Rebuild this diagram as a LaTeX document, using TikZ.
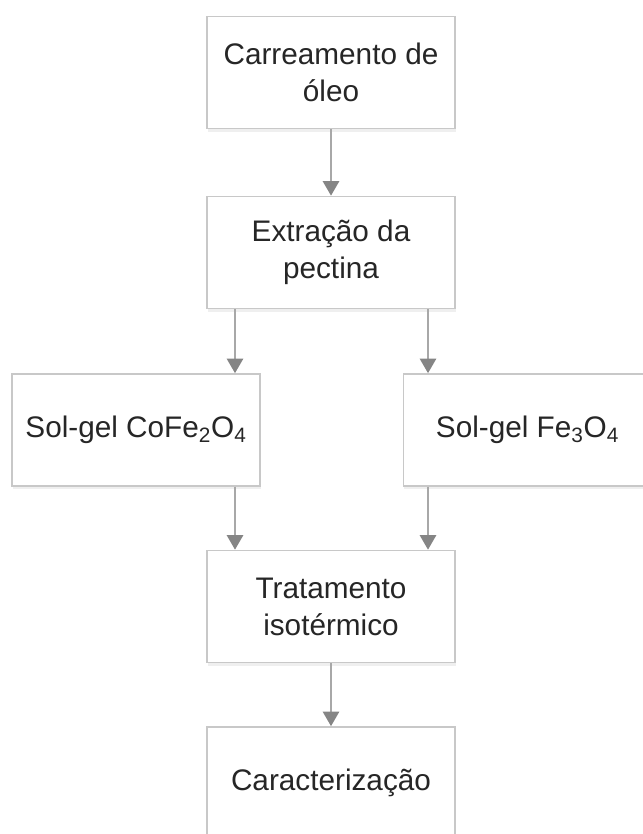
\documentclass[tikz,border=0pt]{standalone}
\usepackage{fontspec}
\setmainfont{Liberation Sans}
\usetikzlibrary{arrows.meta,shadows}
\definecolor{boxline}{HTML}{C8C8C8}
\definecolor{flowline}{HTML}{A8A8A8}
\definecolor{flowhead}{HTML}{858585}
\definecolor{labeltext}{HTML}{262626}

\begin{document}
\begin{tikzpicture}[x=0.75pt, y=0.75pt,
    etapa/.style={draw=boxline, line width=1.1pt, fill=white,
        minimum width=186pt, minimum height=84pt, align=center,
        text=labeltext, font=\fontsize{22.3}{27.8}\selectfont,
        drop shadow={shadow xshift=0.6pt, shadow yshift=-2.4pt, fill=black!12}},
    fluxo/.style={line width=2.2pt, flowline,
        -{Triangle[width=12pt,length=11pt,color=flowhead]}}]
        \useasboundingbox (0,0) rectangle (642,834);
        \node[etapa] (carr) at (331,761.5) {Carreamento de\\óleo};
        \node[etapa] (extr) at (331,581.5) {Extração da\\pectina};
        \node[etapa] (cofe) at (136,404) {Sol-gel CoFe\textsubscript{2}O\textsubscript{4}};
        \node[etapa] (fe) at (527.5,404) {Sol-gel Fe\textsubscript{3}O\textsubscript{4}};
        \node[etapa] (trat) at (331,227.5) {Tratamento\\isotérmico};
        \node[etapa] (carac) at (331,51) {Caracterização};
        \coordinate (colL) at (235,0);
        \coordinate (colR) at (428,0);
        \draw[fluxo] (carr) -- (extr);
        \draw[fluxo] (extr.south -| colL) -- (cofe.north -| colL);
        \draw[fluxo] (extr.south -| colR) -- (fe.north -| colR);
        \draw[fluxo] (cofe.south -| colL) -- (trat.north -| colL);
        \draw[fluxo] (fe.south -| colR) -- (trat.north -| colR);
        \draw[fluxo] (trat) -- (carac);
    \end{tikzpicture}
\end{document}
